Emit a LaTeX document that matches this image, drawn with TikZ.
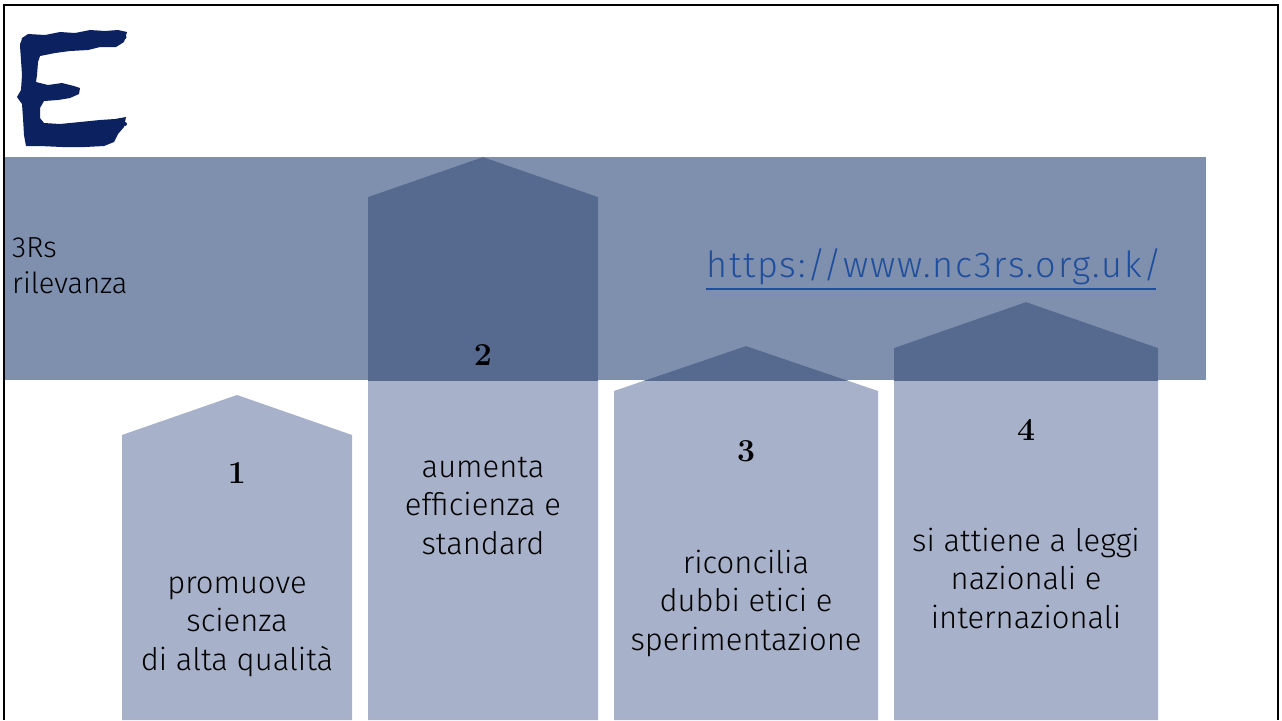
\documentclass[tikz,border=0pt]{standalone}
\usepackage{fontspec}
\setmainfont{Fira Sans Light}
\newfontfamily\numfont{Latin Modern Roman}
\newfontfamily\urlfont[LetterSpace=5]{Fira Sans Light}
\definecolor{band}{HTML}{7F8FAE}
\definecolor{pentlight}{HTML}{A7B1C9}
\definecolor{pentdark}{HTML}{56698F}
\definecolor{urlblue}{HTML}{1F4F9C}
\definecolor{logonavy}{HTML}{0B2160}
\tikzset{
  bodytext/.style={inner sep=0pt, align=center, anchor=north, text=black,
    font=\fontsize{31}{38.5}\selectfont},
  numtext/.style={inner sep=0pt, anchor=center, text=black,
    font=\numfont\bfseries\fontsize{32}{34}\selectfont},
  sidetext/.style={inner sep=0pt, align=left, anchor=north west, text=black,
    font=\fontsize{29}{36}\selectfont},
  frameline/.style={line width=2.5pt, black},
}
\begin{document}
\begin{tikzpicture}[x=1pt,y=-1pt]
\useasboundingbox (0,0) rectangle (1282,720);
\fill[white] (0,0) rectangle (1282,720);
% band
\fill[band] (3,157) rectangle (1206,380);
% pentagons (light)
\def\pA{(122,720)--(122,435)--(237,395)--(352,435)--(352,720)--cycle}
\def\pB{(368,720)--(368,197)--(483,157)--(598,197)--(598,720)--cycle}
\def\pC{(614,720)--(614,391)--(746,346)--(878,391)--(878,720)--cycle}
\def\pD{(894,720)--(894,348)--(1026,302)--(1158,348)--(1158,720)--cycle}
\fill[pentlight] \pA; \fill[pentlight] \pB; \fill[pentlight] \pC; \fill[pentlight] \pD;
\begin{scope}
  \clip (3,157) rectangle (1206,380);
  \fill[pentdark] \pA; \fill[pentdark] \pB; \fill[pentdark] \pC; \fill[pentdark] \pD;
\end{scope}
% side text
\node[sidetext] (side) at (12,232) {\strut 3Rs\\rilevanza};
% url
\node[inner sep=0pt, anchor=base west, text=urlblue, font=\urlfont\fontsize{36}{38}\selectfont] (url) at (706,277) {https://www.nc3rs.org.uk/};
\coordinate (ulA) at (706,289);
\coordinate (ulB) at (1156,289);
\draw[urlblue, line width=2.5pt] (ulA) -- (ulB);
% numbers
\node[numtext] (n1) at (237,473) {1};
\node[numtext] (n2) at (483,355) {2};
\node[numtext] (n3) at (746,451) {3};
\node[numtext] (n4) at (1026,430) {4};
% body texts
\node[bodytext] (t1) at (237,566) {\strut promuove\\scienza\\di alta qualità};
\node[bodytext] (t2) at (483,450) {\strut aumenta\\efficienza e\\standard};
\node[bodytext] (t3) at (746,546) {\strut riconcilia\\dubbi etici e\\sperimentazione};
\node[bodytext] (t4) at (1026,524) {\strut si attiene a leggi\\nazionali e\\internazionali};
% logo E
\fill[logonavy] (22,38) -- (28,34) -- (45,35) -- (60,32) -- (75,33) -- (90,30) -- (105,31) -- (118,30) -- (127,32)
  -- (124,42) -- (116,47) -- (100,47) -- (88,50) -- (70,51) -- (55,53) -- (40,56) -- (38,62) -- (37,75) -- (36,82)
  -- (48,85) -- (62,83) -- (74,86) -- (80,88) -- (79,94) -- (70,98) -- (58,100) -- (44,101) -- (40,108)
  -- (40,118) -- (44,123) -- (60,124) -- (80,122) -- (100,120) -- (115,119) -- (126,117) -- (124,127)
  -- (118,134) -- (114,142) -- (104,146) -- (85,147) -- (62,147) -- (40,146) -- (26,146) -- (24,135)
  -- (23,118) -- (22,104) -- (17,97) -- (21,90) -- (22,75) -- (21,60) -- (20,46) -- cycle;
\fill[logonavy] (124,37) circle (2.5);
\fill[logonavy] (125,124) circle (2);
\fill[logonavy] (22,44) circle (2);
% frame
\draw[frameline] (4,720) -- (4,5) -- (1278,5) -- (1278,720);
\end{tikzpicture}
\end{document}
